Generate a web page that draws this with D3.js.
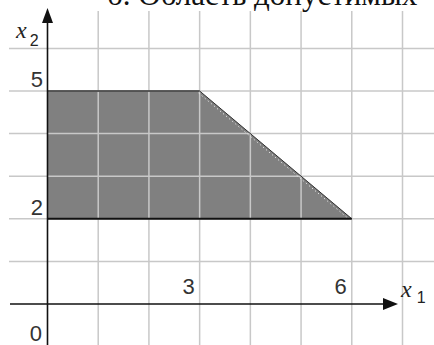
<!DOCTYPE html>
<html>
<head>
<meta charset="utf-8">
<script src="https://cdn.jsdelivr.net/npm/d3@7"></script>
<style>
  body { margin: 0; background: #fff; }
  svg { display: block; }
</style>
</head>
<body>
<svg id="chart" width="434" height="345"></svg>
<script>
// data
var title = "б. Область допустимых";
var regionX1 = [0, 0, 3, 6];
var regionX2 = [2, 5, 5, 2];
var gridX = [1, 2, 3, 4, 5, 6, 7];
var gridY = [1, 2, 3, 4, 5, 6];
var xTicks = ["3", "6"];
var xTickVals = [3, 6];
var yTicks = ["2", "5"];
var yTickVals = [2, 5];

var width = 434, height = 345;
var svg = d3.select("#chart");

var x = d3.scaleLinear().domain([0, 7]).range([47.5, 402.5]);
var y = d3.scaleLinear().domain([0, 5]).range([304, 91]);

// region
var pts = regionX1.map(function(d, i) { return [x(d), y(regionX2[i])]; });
svg.append("polygon")
  .attr("points", pts.map(function(p) { return p.join(","); }).join(" "))
  .attr("fill", "#808080");

// grid (over the fill)
svg.append("g").selectAll("line")
  .data(gridX)
  .enter()
  .append("line")
  .attr("x1", function(d) { return x(d); })
  .attr("x2", function(d) { return x(d); })
  .attr("y1", 11)
  .attr("y2", height)
  .attr("stroke", "#c8c8c8")
  .attr("stroke-width", 1.5);

svg.append("g").selectAll("line")
  .data(gridY)
  .enter()
  .append("line")
  .attr("x1", 9)
  .attr("x2", width)
  .attr("y1", function(d) { return y(d); })
  .attr("y2", function(d) { return y(d); })
  .attr("stroke", "#c8c8c8")
  .attr("stroke-width", 1.5);

// region edges
svg.append("line")
  .attr("x1", x(regionX1[1])).attr("y1", y(regionX2[1]))
  .attr("x2", x(regionX1[2])).attr("y2", y(regionX2[2]))
  .attr("stroke", "#303030").attr("stroke-width", 1.5);
svg.append("line")
  .attr("x1", x(regionX1[2])).attr("y1", y(regionX2[2]))
  .attr("x2", x(regionX1[3])).attr("y2", y(regionX2[3]))
  .attr("stroke", "#303030").attr("stroke-width", 1);
svg.append("line")
  .attr("x1", x(regionX1[2]) - 1).attr("y1", y(regionX2[2]) + 2)
  .attr("x2", x(regionX1[3]) - 2).attr("y2", y(regionX2[3]) + 1)
  .attr("stroke", "#ffffff").attr("stroke-width", 1)
  .attr("stroke-dasharray", "1,3");
svg.append("line")
  .attr("x1", x(regionX1[0])).attr("y1", y(regionX2[0]))
  .attr("x2", x(regionX1[3])).attr("y2", y(regionX2[3]))
  .attr("stroke", "#111").attr("stroke-width", 2);

// axes
svg.append("line")
  .attr("x1", 10).attr("x2", 386)
  .attr("y1", y(0)).attr("y2", y(0))
  .attr("stroke", "#111").attr("stroke-width", 1.6);
svg.append("line")
  .attr("x1", x(0)).attr("x2", x(0))
  .attr("y1", 20).attr("y2", height)
  .attr("stroke", "#111").attr("stroke-width", 1.6);
svg.append("path")
  .attr("d", "M398," + y(0) + " L383," + (y(0) - 6) + " L383," + (y(0) + 6) + "Z")
  .attr("fill", "#111");
svg.append("path")
  .attr("d", "M" + x(0) + ",8 L" + (x(0) - 5.5) + ",23 L" + (x(0) + 5.5) + ",23Z")
  .attr("fill", "#111");

// tick labels
var labelFont = "'Liberation Sans', Arial, sans-serif";
svg.append("g").selectAll("text")
  .data(xTickVals)
  .enter()
  .append("text")
  .attr("x", function(d) { return x(d) - 5; })
  .attr("y", 294)
  .attr("text-anchor", "end")
  .style("font-family", labelFont)
  .style("font-size", "22px")
  .style("fill", "#333")
  .text(function(d, i) { return xTicks[i]; });

svg.append("g").selectAll("text")
  .data(yTickVals)
  .enter()
  .append("text")
  .attr("x", 43)
  .attr("y", function(d) { return y(d) - 4; })
  .attr("text-anchor", "end")
  .style("font-family", labelFont)
  .style("font-size", "22px")
  .style("fill", "#333")
  .text(function(d, i) { return yTicks[i]; });

svg.append("text")
  .attr("x", 42).attr("y", 341)
  .attr("text-anchor", "end")
  .style("font-family", labelFont)
  .style("font-size", "22px")
  .style("fill", "#333")
  .text("0");

// axis names
var xName = svg.append("text").attr("x", 401).attr("y", 297)
  .style("font-family", labelFont).style("fill", "#222");
xName.append("tspan").style("font-family", "'Liberation Serif', serif")
  .style("font-style", "italic").style("font-size", "24px").text("x");
xName.append("tspan").attr("dx", 5).attr("dy", 6).style("font-size", "16px").text("1");

var yName = svg.append("text").attr("x", 16).attr("y", 38)
  .style("font-family", labelFont).style("fill", "#222");
yName.append("tspan").style("font-family", "'Liberation Serif', serif")
  .style("font-style", "italic").style("font-size", "24px").text("x");
yName.append("tspan").attr("dx", 3).attr("dy", 8).style("font-size", "16px").text("2");

// title (cut at the top, as in the original)
svg.append("text")
  .attr("x", 107).attr("y", 5)
  .style("font-family", "'Liberation Serif', 'Times New Roman', serif")
  .style("font-size", "31px")
  .style("fill", "#111")
  .text(title);
</script>
</body>
</html>
